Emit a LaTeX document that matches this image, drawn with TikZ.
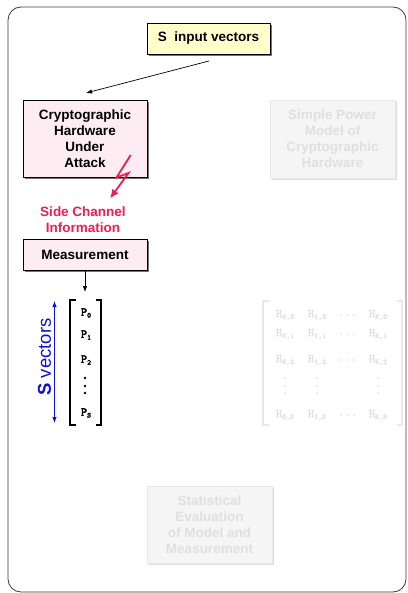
\documentclass[tikz,border=0pt]{standalone}
\usepackage{fontspec}
\setmainfont{Liberation Sans}
\setmonofont{Latin Modern Mono}[AutoFakeBold=2.5]
\usetikzlibrary{arrows.meta,shadows}

\definecolor{boxpink}{RGB}{253,236,242}
\definecolor{boxyellow}{RGB}{255,255,204}
\definecolor{sidered}{RGB}{236,30,84}
\definecolor{vecblue}{RGB}{16,16,210}
\definecolor{fadefill}{RGB}{245,245,245}
\definecolor{fadeline}{RGB}{232,232,232}
\definecolor{fadetext}{RGB}{224,224,224}
\definecolor{framegray}{RGB}{60,60,60}

\newcommand\idx[1]{\raisebox{-0.35ex}{\fontsize{7.5}{7.5}\selectfont #1}}
\newcommand\vent[2]{{\ttfamily\bfseries\fontsize{12}{12}\selectfont #1\idx{#2}}}

\tikzset{
  labeltext/.style={font=\bfseries\fontsize{13.5}{16}\selectfont, align=center},
  activebox/.style={labeltext, draw=black, line width=0.8pt, inner sep=0pt,
    drop shadow={shadow xshift=2.2pt, shadow yshift=-2.2pt, opacity=1, fill=black!55}},
  fadedbox/.style={labeltext, draw=fadeline, fill=fadefill, text=fadetext, inner sep=0pt,
    drop shadow={shadow xshift=2.2pt, shadow yshift=-2.2pt, opacity=1, fill=black!13}},
  flow/.style={-{Latex[length=6pt,width=4.5pt]}, line width=0.7pt},
  bracket/.style={line width=1.4pt},
  fadebracket/.style={line width=1.4pt, draw=fadeline},
  hent/.style={text=fadetext, font=\ttfamily\bfseries\fontsize{12}{12}\selectfont, inner sep=0pt},
}

\begin{document}
\begin{tikzpicture}[x=1pt,y=-1pt]
  \useasboundingbox (0,0) rectangle (407,593);

  % outer frame
  \draw[framegray, line width=0.8pt, rounded corners=13pt] (8,7) rectangle (406,592);

  % boxes
  \node[activebox, fill=boxyellow, minimum width=123pt, minimum height=31pt] (input) at (208.5,38.5) {S\ \ input vectors};
  \node[activebox, fill=boxpink, minimum width=124pt, minimum height=77pt] (hw) at (85,138.5) {Cryptographic\\Hardware\\Under\\Attack};
  \node[fadedbox, minimum width=125pt, minimum height=78pt] (model) at (332.5,139) {Simple Power\\Model of\\Cryptographic\\Hardware};
  \node[activebox, fill=boxpink, minimum width=124pt, minimum height=31pt] (meas) at (85,254.5) {Measurement};
  \node[fadedbox, minimum width=125pt, minimum height=77pt] (stat) at (209.5,524.5) {Statistical\\Evaluation\\of Model and\\Measurement};

  % input vectors go into the hardware
  \coordinate (inTail) at (209,61);
  \coordinate (inHead) at (86,93);
  \draw[flow] (inTail) -- (inHead);

  % side channel leak
  \coordinate (bolt0) at (130.7,155);
  \coordinate (bolt1) at (116.5,177.5);
  \coordinate (bolt2) at (128.5,173);
  \coordinate (bolt3) at (110,198.5);
  \draw[sidered, line width=1.8pt, line join=miter, -{Latex[length=9pt,width=8pt]}]
    (bolt0) -- (bolt1) -- (bolt2) -- (bolt3);
  \node[labeltext, text=sidered, inner sep=0pt] (side) at (83,220) {Side Channel\\Information};

  % measurement to trace vector
  \coordinate (measOut) at (85,292);
  \draw[flow] (meas.south) -- (measOut);

  % trace vector
  \draw[bracket] (75.5,300) -- (70,300) -- (70,425) -- (75.5,425);
  \draw[bracket] (95.5,300) -- (101,300) -- (101,425) -- (95.5,425);
  \node (p0) at (86,313) {\vent{P}{0}};
  \node (p1) at (86,335) {\vent{P}{1}};
  \node (p2) at (86,360) {\vent{P}{2}};
  \foreach \yy in {378,386,393} \fill (85,\yy) circle (1.3pt);
  \node (ps) at (86,413) {\vent{P}{S}};

  % vector count
  \coordinate (vTop) at (54.5,301);
  \coordinate (vBot) at (54.5,423);
  \draw[vecblue, line width=0.9pt, {Latex[length=6pt,width=4.5pt]}-{Latex[length=6pt,width=4.5pt]}] (vTop) -- (vBot);
  \node[text=vecblue, rotate=90, inner sep=0pt, font=\fontsize{18.5}{20}\selectfont] (vlabel) at (44.5,357)
    {\textbf{S} vectors};

  % hypothesis matrix
  \draw[fadebracket] (268.5,301) -- (263,301) -- (263,425) -- (268.5,425);
  \draw[fadebracket] (396.5,301) -- (402,301) -- (402,425) -- (396.5,425);
  \foreach \r/\yy in {0/315,1/334,2/360,S/415} {
    \node[hent] at (285,\yy) {H\idx{0,\r}};
    \node[hent] at (317,\yy) {H\idx{1,\r}};
    \node[hent] at (347.5,\yy) {...};
    \node[hent] at (378,\yy) {H\idx{K,\r}};
  }
  \foreach \xx in {285,317,378}
    \foreach \yy in {378,386,393} \fill[fadetext] (\xx,\yy) circle (1pt);
\end{tikzpicture}
\end{document}
